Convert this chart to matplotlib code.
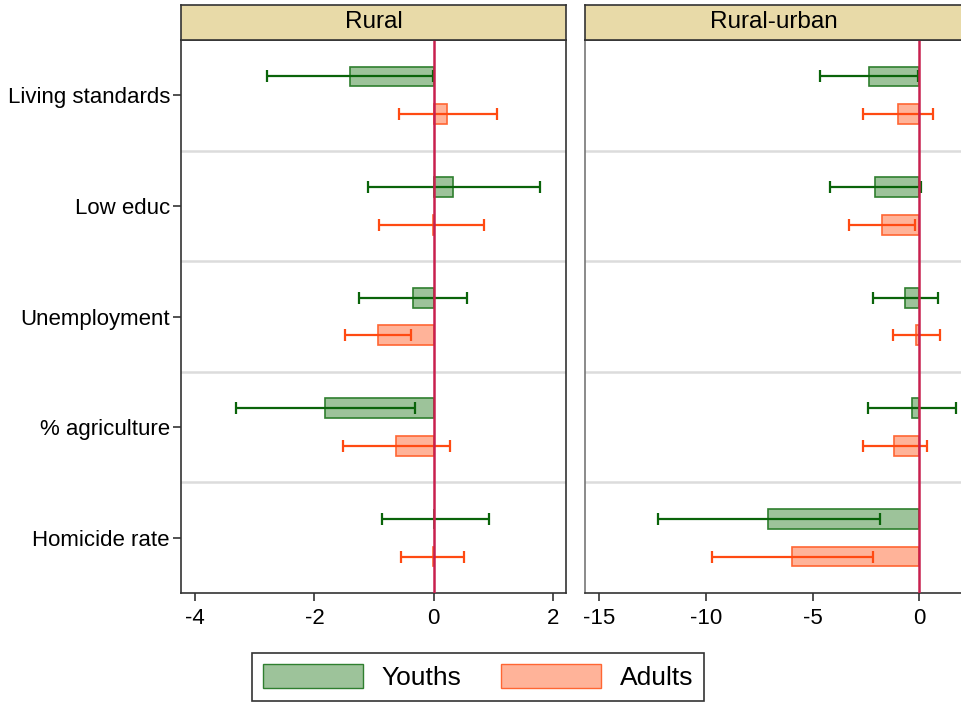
import numpy as np
import matplotlib
matplotlib.use("Agg")
import matplotlib.pyplot as plt
from matplotlib.patches import Patch

plt.rcParams['font.family'] = ['Liberation Sans', 'DejaVu Sans']

categories = ["Living standards", "Low educ", "Unemployment", "% agriculture", "Homicide rate"]
panels = ["Rural", "Rural-urban"]

# coefficients and 95% CI
rural_youth = [-1.41, 0.33, -0.35, -1.82, 0.01]
rural_youth_lo = [-2.80, -1.11, -1.26, -3.31, -0.86]
rural_youth_hi = [-0.02, 1.78, 0.56, -0.32, 0.93]
rural_adult = [0.23, -0.02, -0.93, -0.63, -0.01]
rural_adult_lo = [-0.59, -0.91, -1.48, -1.52, -0.55]
rural_adult_hi = [1.06, 0.84, -0.38, 0.28, 0.51]

ru_youth = [-2.37, -2.06, -0.66, -0.36, -7.08]
ru_youth_lo = [-4.65, -4.20, -2.16, -2.40, -12.26]
ru_youth_hi = [-0.08, 0.08, 0.86, 1.70, -1.84]
ru_adult = [-1.01, -1.76, -0.14, -1.17, -5.95]
ru_adult_lo = [-2.64, -3.31, -1.22, -2.64, -9.70]
ru_adult_hi = [0.64, -0.22, 0.95, 0.36, -2.17]

green_fill = '#9DC39A'
green_edge = '#2F7F2F'
green_err = '#0A640A'
orange_fill = '#FFB399'
orange_edge = '#FF6633'
orange_err = '#FF4A12'
zero_col = '#C8204E'
strip_col = '#E8DAA8'

fig = plt.figure(figsize=(9.62, 7.04), dpi=100)
W, H = 962.0, 704.0

def box(x0, y0, x1, y1):
    return [x0 / W, 1 - y1 / H, (x1 - x0) / W, (y1 - y0) / H]

ax1 = fig.add_axes(box(181, 40, 566, 593))
ax2 = fig.add_axes(box(585, 40, 963, 593))
s1 = fig.add_axes(box(181, 5, 566, 40))
s2 = fig.add_axes(box(585, 5, 963, 40))

y = np.arange(len(categories))
off = 0.17
bh = 0.18

def draw(ax, yv, ylo, yhi, av, alo, ahi, xlim, xticks):
    ax.barh(y - off, yv, height=bh, color=green_fill, edgecolor=green_edge, linewidth=1.2, zorder=2)
    ax.barh(y + off, av, height=bh, color=orange_fill, edgecolor=orange_edge, linewidth=1.2, zorder=2)
    yv = np.array(yv); av = np.array(av)
    ax.errorbar(yv, y - off, xerr=[yv - np.array(ylo), np.array(yhi) - yv], fmt='none',
                ecolor=green_err, elinewidth=1.6, capsize=4.5, capthick=1.6, zorder=3)
    ax.errorbar(av, y + off, xerr=[av - np.array(alo), np.array(ahi) - av], fmt='none',
                ecolor=orange_err, elinewidth=1.6, capsize=4.5, capthick=1.6, zorder=3)
    for b in np.arange(0.5, len(categories) - 0.5):
        ax.axhline(b, color='#DCDCDC', linewidth=1.8, zorder=1)
    ax.axvline(0, color=zero_col, linewidth=1.8, zorder=4)
    ax.set_xlim(xlim)
    ax.set_ylim(len(categories) - 0.5, -0.5)
    ax.set_xticks(xticks)
    ax.set_xticklabels([str(t) for t in xticks])
    ax.tick_params(axis='x', labelsize=16, length=6, width=1.2, color='#333333', pad=5)
    for sp in ax.spines.values():
        sp.set_color('#333333')
        sp.set_linewidth(1.2)

draw(ax1, rural_youth, rural_youth_lo, rural_youth_hi, rural_adult, rural_adult_lo, rural_adult_hi,
     (-4.24, 2.22), [-4, -2, 0, 2])
draw(ax2, ru_youth, ru_youth_lo, ru_youth_hi, ru_adult, ru_adult_lo, ru_adult_hi,
     (-15.67, 2.05), [-15, -10, -5, 0])

ax1.set_yticks(y)
ax1.set_yticklabels(categories)
ax1.tick_params(axis='y', labelsize=16, length=6, width=1.2, color='#333333', pad=2)
ax2.set_yticks([])
ax2.spines['left'].set_color('#777777')

for s, title in zip([s1, s2], panels):
    s.set_facecolor(strip_col)
    s.set_xticks([])
    s.set_yticks([])
    for sp in s.spines.values():
        sp.set_color('#333333')
        sp.set_linewidth(1.2)
    s.text(0.5, 0.5, title, ha='center', va='center', fontsize=17.5, transform=s.transAxes)

handles = [Patch(facecolor=green_fill, edgecolor=green_edge, label='Youths'),
           Patch(facecolor=orange_fill, edgecolor=orange_edge, label='Adults')]
leg = fig.legend(handles=handles, loc='center', bbox_to_anchor=(478 / W, 1 - 677 / H), ncol=2,
                 fontsize=19, handlelength=3.8, handleheight=1.05, columnspacing=1.5,
                 handletextpad=0.7, fancybox=False, edgecolor='black', borderpad=0.4)
leg.get_frame().set_linewidth(1.2)

fig.savefig('out.png', dpi=100)
